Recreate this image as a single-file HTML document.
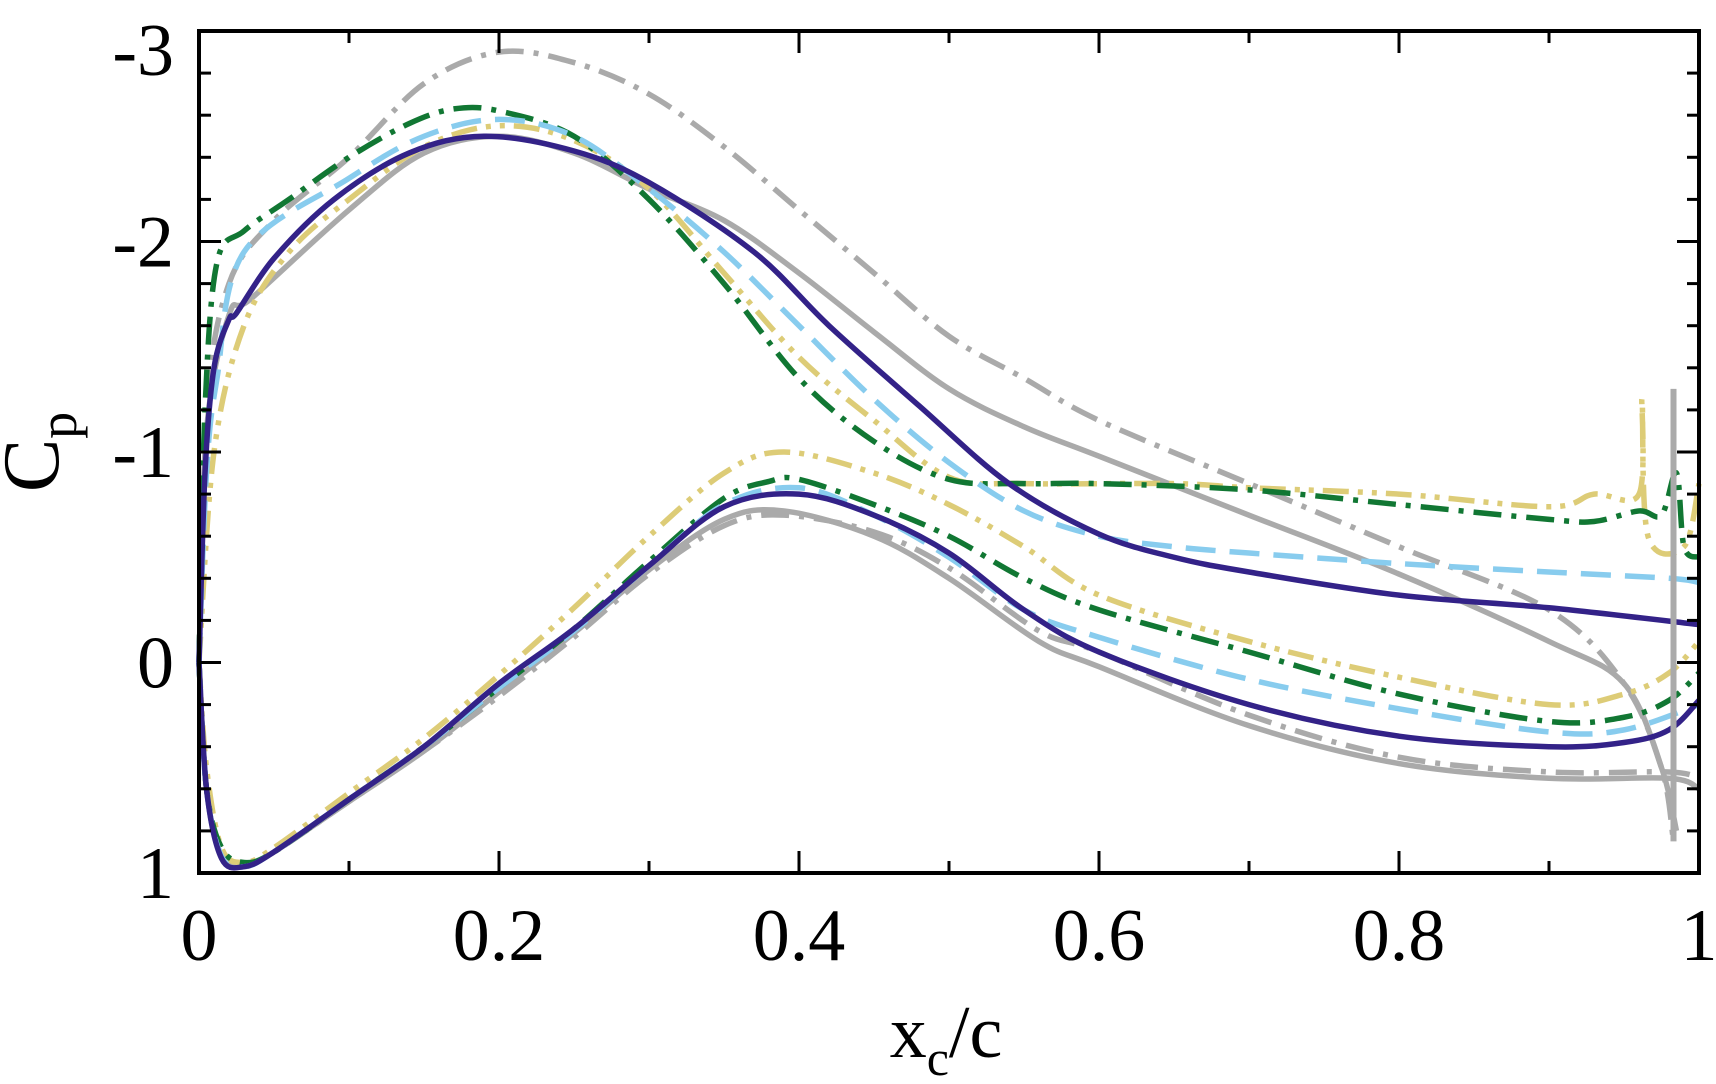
<!DOCTYPE html>
<html><head><meta charset="utf-8"><style>
html,body{margin:0;padding:0;background:#fff;}
svg{display:block;font-family:"Liberation Serif",serif;}
</style></head><body>
<svg id="chart" width="1716" height="1084" viewBox="0 0 1716 1084" xmlns="http://www.w3.org/2000/svg">
<g id="series"></g>
<rect x="199" y="31" width="1500" height="842" fill="none" stroke="#000" stroke-width="4"/>
<g id="ticks"></g>
<text x="946" y="1057" font-size="74" text-anchor="middle">x<tspan font-size="50" dy="18">c</tspan><tspan dy="-18">/c</tspan></text>
<text transform="translate(58,452) rotate(-90)" font-size="80" text-anchor="middle">C<tspan font-size="54" dy="18">p</tspan></text>
</svg>
<script>
const xTicks=[0,0.2,0.4,0.6,0.8,1];
const xTickLabels=["0","0.2","0.4","0.6","0.8","1"];
const yTicks=[-3,-2,-1,0,1];
const yTickLabels=["-3","-2","-1","0","1"];

const grayDashUpX=[0,0.005,0.02,0.05,0.1,0.15,0.2,0.25,0.3,0.35,0.4,0.45,0.5,0.55,0.6,0.7,0.8,0.9,0.95,0.975,0.983];
const grayDashUpY=[0,-1.2,-1.8,-2.1,-2.4,-2.75,-2.9,-2.85,-2.7,-2.45,-2.15,-1.85,-1.55,-1.35,-1.15,-0.85,-0.55,-0.25,0.1,0.5,0.85];
const grayDashLoX=[0,0.005,0.015,0.03,0.05,0.1,0.15,0.2,0.25,0.3,0.35,0.39,0.45,0.5,0.56,0.6,0.7,0.8,0.9,0.98,1];
const grayDashLoY=[0,0.6,0.9,0.96,0.9,0.66,0.42,0.16,-0.12,-0.42,-0.65,-0.7,-0.62,-0.45,-0.15,-0.05,0.25,0.45,0.52,0.52,0.55];
const graySolUpX=[0,0.005,0.02,0.035,0.1,0.15,0.2,0.25,0.3,0.35,0.4,0.45,0.5,0.55,0.6,0.7,0.8,0.9,0.95,0.975,0.985];
const graySolUpY=[0,-1.1,-1.65,-1.73,-2.15,-2.42,-2.5,-2.42,-2.25,-2.1,-1.85,-1.57,-1.3,-1.12,-0.98,-0.7,-0.42,-0.1,0.1,0.5,0.8];
const graySolLoX=[0,0.005,0.015,0.03,0.05,0.1,0.15,0.2,0.25,0.3,0.35,0.39,0.45,0.5,0.56,0.6,0.7,0.8,0.9,0.98,1];
const graySolLoY=[0,0.6,0.92,0.97,0.9,0.66,0.42,0.14,-0.14,-0.44,-0.68,-0.72,-0.6,-0.4,-0.1,0.02,0.3,0.48,0.55,0.55,0.6];
const greenUpX=[0,0.004,0.012,0.03,0.06,0.1,0.14,0.17,0.2,0.25,0.3,0.35,0.4,0.45,0.5,0.55,0.6,0.7,0.8,0.9,0.93,0.96,0.975,0.985,0.99,1];
const greenUpY=[0,-1.2,-1.9,-2.05,-2.2,-2.4,-2.56,-2.63,-2.62,-2.5,-2.2,-1.8,-1.35,-1.05,-0.87,-0.85,-0.85,-0.82,-0.75,-0.68,-0.67,-0.72,-0.7,-0.9,-0.55,-0.5];
const greenLoX=[0,0.005,0.015,0.03,0.05,0.1,0.15,0.2,0.25,0.3,0.35,0.38,0.4,0.45,0.5,0.55,0.6,0.7,0.8,0.9,0.95,0.98,1];
const greenLoY=[0,0.6,0.88,0.95,0.9,0.65,0.4,0.12,-0.16,-0.48,-0.78,-0.86,-0.87,-0.75,-0.6,-0.4,-0.25,-0.05,0.15,0.28,0.26,0.18,0.05];
const blueUpX=[0,0.005,0.012,0.03,0.1,0.15,0.2,0.25,0.3,0.35,0.4,0.45,0.5,0.55,0.6,0.65,0.7,0.8,0.9,0.98,1];
const blueUpY=[0,-0.9,-1.35,-1.95,-2.3,-2.5,-2.58,-2.5,-2.25,-1.95,-1.6,-1.25,-0.95,-0.72,-0.6,-0.55,-0.52,-0.47,-0.43,-0.4,-0.38];
const blueLoX=[0,0.005,0.015,0.03,0.05,0.1,0.15,0.2,0.25,0.3,0.35,0.4,0.45,0.5,0.55,0.6,0.7,0.8,0.9,0.95,1];
const blueLoY=[0,0.6,0.92,0.97,0.9,0.65,0.4,0.12,-0.15,-0.46,-0.75,-0.83,-0.7,-0.5,-0.25,-0.12,0.08,0.22,0.33,0.32,0.2];
const purpleUpX=[0,0.004,0.01,0.02,0.025,0.05,0.09,0.14,0.19,0.25,0.3,0.37,0.42,0.48,0.54,0.6,0.65,0.7,0.8,0.9,1];
const purpleUpY=[0,-0.9,-1.4,-1.63,-1.66,-1.92,-2.2,-2.42,-2.5,-2.43,-2.28,-1.95,-1.6,-1.22,-0.85,-0.61,-0.5,-0.43,-0.32,-0.26,-0.18];
const purpleLoX=[0,0.005,0.015,0.03,0.05,0.1,0.15,0.2,0.25,0.3,0.35,0.4,0.45,0.5,0.55,0.6,0.7,0.8,0.9,0.95,0.98,1];
const purpleLoY=[0,0.6,0.93,0.97,0.9,0.65,0.4,0.1,-0.16,-0.46,-0.74,-0.8,-0.7,-0.52,-0.25,-0.05,0.2,0.35,0.4,0.38,0.32,0.18];
const yellowUpX=[0,0.01,0.03,0.06,0.1,0.15,0.2,0.25,0.3,0.35,0.4,0.45,0.5,0.55,0.65,0.7,0.8,0.9,0.93,0.96,0.962,0.966,0.99,1];
const yellowUpY=[0,-1.0,-1.6,-1.95,-2.2,-2.45,-2.55,-2.48,-2.25,-1.85,-1.45,-1.15,-0.88,-0.85,-0.85,-0.83,-0.8,-0.74,-0.8,-0.8,-1.25,-0.6,-0.55,-0.85];
const yellowLoX=[0,0.005,0.015,0.03,0.05,0.1,0.15,0.2,0.25,0.3,0.35,0.39,0.45,0.5,0.55,0.6,0.7,0.8,0.9,0.95,0.98,1];
const yellowLoY=[0,0.5,0.88,0.95,0.88,0.62,0.36,0.06,-0.26,-0.6,-0.9,-1.0,-0.9,-0.75,-0.55,-0.32,-0.1,0.07,0.2,0.15,0.05,-0.1];

const X0=199,X1=1699,Y0=31,Y1=873;
function xs(v){return X0+v*(X1-X0);}
function ys(v){return Y0+(v+3)/4*(Y1-Y0);}
const NS="http://www.w3.org/2000/svg";
function pathD(xa,ya){
  const p=xa.map((x,i)=>[xs(x),ys(ya[i])]);
  let d="M"+p[0][0]+","+p[0][1];
  for(let i=0;i<p.length-1;i++){
    const a=p[Math.max(0,i-1)],b=p[i],c=p[i+1],e=p[Math.min(p.length-1,i+2)];
    const c1=[b[0]+(c[0]-a[0])/6,b[1]+(c[1]-a[1])/6],c2=[c[0]-(e[0]-b[0])/6,c[1]-(e[1]-b[1])/6];
    d+="C"+c1[0]+","+c1[1]+" "+c2[0]+","+c2[1]+" "+c[0]+","+c[1];
  }
  return d;
}
const sg=document.getElementById("series");
function line(name,xa,ya,color,dash){
  const el=document.createElementNS(NS,"path");
  el.setAttribute("d",pathD(xa,ya));
  el.setAttribute("fill","none");el.setAttribute("stroke",color);
  el.setAttribute("stroke-width","5.5");
  if(dash)el.setAttribute("stroke-dasharray",dash);
  
  
  sg.appendChild(el);
}
const DD="28 10 5 10",DDD="26 9 5 9 5 9";
line("gray-dashdot-upper",grayDashUpX,grayDashUpY,"#aaaaaa",DD);
line("gray-dashdot-lower",grayDashLoX,grayDashLoY,"#aaaaaa",DD);
line("gray-solid-upper",graySolUpX,graySolUpY,"#aaaaaa",null);
line("gray-solid-lower",graySolLoX,graySolLoY,"#aaaaaa",null);
line("yellow-upper",yellowUpX,yellowUpY,"#ddcc77",DDD);
line("yellow-lower",yellowLoX,yellowLoY,"#ddcc77",DDD);
line("green-upper",greenUpX,greenUpY,"#117733",DD);
line("green-lower",greenLoX,greenLoY,"#117733",DD);
line("blue-upper",blueUpX,blueUpY,"#88ccee","30 14");
line("blue-lower",blueLoX,blueLoY,"#88ccee","30 14");
line("purple-upper",purpleUpX,purpleUpY,"#332288",null);
line("purple-lower",purpleLoX,purpleLoY,"#332288",null);
const te=document.createElementNS(NS,"line");
te.setAttribute("x1",xs(0.983));te.setAttribute("x2",xs(0.983));
te.setAttribute("y1",ys(-1.3));te.setAttribute("y2",ys(0.85));
te.setAttribute("stroke","#aaaaaa");te.setAttribute("stroke-width","6");


sg.appendChild(te);

const tg=document.getElementById("ticks");
function tk(x1,y1,x2,y2){const l=document.createElementNS(NS,"line");
 l.setAttribute("x1",x1);l.setAttribute("y1",y1);l.setAttribute("x2",x2);l.setAttribute("y2",y2);
 l.setAttribute("stroke","#000");l.setAttribute("stroke-width","3");
 
 
 tg.appendChild(l);}
for(let i=0;i<=10;i++){const v=i/10,L=i%2?12:22,x=xs(v);tk(x,Y1,x,Y1-L);tk(x,Y0,x,Y0+L);}
for(let i=0;i<=20;i++){const v=-3+i*0.2,L=i%5?12:22,y=ys(v);tk(X0,y,X0+L,y);tk(X1,y,X1-L,y);}
xTicks.forEach((v,i)=>{const t=document.createElementNS(NS,"text");
 t.setAttribute("x",xs(v));t.setAttribute("y",960);t.setAttribute("font-size","74");t.setAttribute("text-anchor","middle");
 t.textContent=xTickLabels[i];
 
 
 tg.appendChild(t);});
yTicks.forEach((v,i)=>{const t=document.createElementNS(NS,"text");
 const yc=Math.max(ys(v),50);
 t.setAttribute("x",174);t.setAttribute("y",yc+25);t.setAttribute("font-size","74");t.setAttribute("text-anchor","end");
 t.textContent=yTickLabels[i];
 
 
 tg.appendChild(t);});
</script>
</body></html>
